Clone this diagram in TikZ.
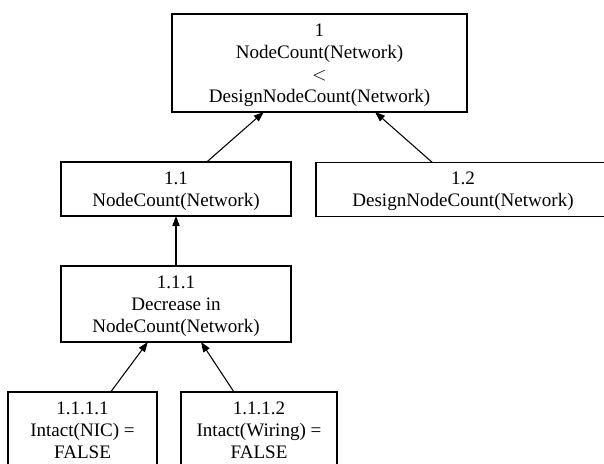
\documentclass[tikz,border=0pt]{standalone}
\usepackage{fontspec}
\setmainfont{Liberation Serif}
\usetikzlibrary{arrows.meta}
\tikzset{
  goal/.style={draw, shape=rectangle, align=center, inner sep=0pt, outer sep=0pt,
    text depth=-2.5pt, line width=0.8pt, font=\fontsize{14.3pt}{16.5pt}\selectfont},
  up/.style={line width=0.8pt, -{Triangle[length=7.5pt,width=5.5pt]}}
}
\begin{document}
\begin{tikzpicture}[x=0.75pt,y=-0.75pt]
	\useasboundingbox (0,0) rectangle (604,464);
	\clip (0,0) rectangle (604,464);
	\node[goal, minimum width=221.25pt, minimum height=73.5pt] (T1) at (319.5,63) {1\\NodeCount(Network)\\$<$\\DesignNodeCount(Network)};
	\node[goal, minimum width=172.5pt, minimum height=40.5pt] (T11) at (176,189) {1.1\\NodeCount(Network)};
	\node[goal, minimum width=220.5pt, minimum height=40.5pt] (T12) at (463,189.5) {1.2\\DesignNodeCount(Network)};
	\node[goal, minimum width=172.5pt, minimum height=57pt] (T111) at (176,304) {1.1.1\\Decrease in\\NodeCount(Network)};
	\node[goal, minimum width=111.75pt, minimum height=57pt] (T1111) at (82.5,430) {1.1.1.1\\Intact(NIC) =\\FALSE};
	\node[goal, minimum width=117pt, minimum height=57pt] (T1112) at (259,430) {1.1.1.2\\Intact(Wiring) =\\FALSE};

	\draw[up] (T11)--(T1);
	\draw[up] (T12)--(T1);
	\draw[up] (T111)--(T11);
	\draw[up] (T1111)--(T111);
	\draw[up] (T1112)--(T111);
\end{tikzpicture}
\end{document}
